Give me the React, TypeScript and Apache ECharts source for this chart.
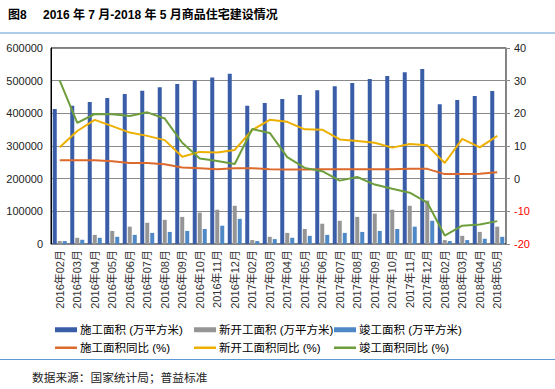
import React, { useEffect, useRef } from "react";
import * as echarts from "echarts";

const categories = [
  "2016年02月", "2016年03月", "2016年04月", "2016年05月", "2016年06月", "2016年07月",
  "2016年08月", "2016年09月", "2016年10月", "2016年11月", "2016年12月",
  "2017年02月", "2017年03月", "2017年04月", "2017年05月", "2017年06月", "2017年07月",
  "2017年08月", "2017年09月", "2017年10月", "2017年11月", "2017年12月",
  "2018年02月", "2018年03月", "2018年04月", "2018年05月",
];

const constructionArea = [
  413000, 423000, 435000, 447000, 459000, 469000, 480000, 490000, 501000, 510000, 521000,
  423000, 432000, 444000, 456000, 471000, 483000, 493000, 505000, 514000, 526000, 536000,
  428000, 441000, 453000, 468000,
];
const newStartArea = [
  9000, 19000, 28000, 40000, 53000, 65000, 74000, 83000, 96000, 105000, 117000,
  12000, 22000, 34000, 46000, 62000, 71000, 83000, 93000, 105000, 117000, 133000,
  12000, 25000, 37000, 53000,
];
const completedArea = [
  9000, 13000, 19000, 22000, 28000, 34000, 37000, 40000, 46000, 56000, 77000,
  9000, 15000, 19000, 25000, 28000, 34000, 37000, 40000, 46000, 53000, 71000,
  9000, 12000, 16000, 22000,
];
const constructionYoY = [
  5.6, 5.6, 5.6, 5.3, 4.8, 4.8, 4.4, 3.4, 3.2, 2.9, 3.2,
  3.2, 2.9, 2.8, 2.8, 2.9, 2.9, 2.9, 2.9, 2.9, 3.0, 3.0,
  1.4, 1.4, 1.5, 2.0,
];
const newStartYoY = [
  9.6, 14.6, 18.0, 16.1, 14.1, 13.1, 11.8, 6.7, 8.2, 8.0, 8.8,
  14.9, 18.0, 17.4, 15.1, 15.0, 12.0, 11.5, 11.0, 9.5, 10.6, 10.2,
  4.8, 12.2, 9.6, 13.1,
];
const completedYoY = [
  30.0, 17.1, 19.8, 19.7, 19.2, 20.3, 18.4, 11.0, 6.2, 5.4, 4.5,
  15.2, 14.0, 6.6, 3.3, 2.3, -0.6, 0.5, -1.8, -3.1, -4.3, -7.3,
  -17.4, -14.4, -14.0, -13.0,
];

const leftTicks = { min: 0, max: 600000, interval: 100000 };
const rightTicks = { min: -20, max: 40, interval: 10 };

const FONT = "'Liberation Sans', 'Noto Sans CJK SC', sans-serif";

const names = {
  c: "施工面积 (万平方米)",
  n: "新开工面积 (万平方米)",
  d: "竣工面积 (万平方米)",
  cy: "施工面积同比 (%)",
  ny: "新开工面积同比 (%)",
  dy: "竣工面积同比 (%)",
};

const colors = {
  c: "#3A5DA8",
  n: "#959595",
  d: "#4F88C6",
  cy: "#DB6A2C",
  ny: "#EDB000",
  dy: "#6E9E3C",
};

function App() {
  const ref = useRef<HTMLDivElement>(null);
  useEffect(() => {
    const chart = echarts.init(ref.current!, null, { renderer: "svg" });
    const legendItem = (key: keyof typeof names, left: number, top: number, isBar: boolean) => ({
      data: [{ name: names[key], icon: "rect" }],
      left,
      top,
      itemWidth: 22,
      itemHeight: isBar ? 5 : 2.5,
      itemGap: 4,
      textStyle: { fontFamily: FONT, fontSize: 11.5, color: "#000", padding: [0, 0, 0, -2] },
      selectedMode: false,
    });
    chart.setOption({
      animation: false,
      backgroundColor: "#fff",
      grid: {
        left: 51, right: 49, top: 48, bottom: 145,
        show: true, borderColor: "#000", borderWidth: 1,
      },
      graphic: [
        { type: "text", left: 8, top: 9, style: { text: "图8", font: `bold 12px ${FONT}`, fill: "#000" } },
        { type: "text", left: 43, top: 9, style: { text: "2016 年 7 月-2018 年 5 月商品住宅建设情况", font: `bold 12px ${FONT}`, fill: "#000" } },
        { type: "line", shape: { x1: 0, y1: 33, x2: 555, y2: 33 }, style: { stroke: "#5B9BD5", lineWidth: 1 } },
        { type: "line", shape: { x1: 0, y1: 359.5, x2: 555, y2: 359.5 }, style: { stroke: "#5B9BD5", lineWidth: 1 } },
        { type: "text", left: 32, top: 371, style: { text: "数据来源：国家统计局；普益标准", font: `11.7px 'Noto Sans CJK SC', sans-serif`, fill: "#222" } },
      ],
      legend: [
        legendItem("c", 50, 319, true),
        legendItem("n", 189, 319, true),
        legendItem("d", 329, 319, true),
        legendItem("cy", 50, 337, false),
        legendItem("ny", 189, 337, false),
        legendItem("dy", 329, 337, false),
      ],
      xAxis: {
        type: "category",
        data: categories,
        axisLine: { lineStyle: { color: "#888" } },
        axisTick: { show: false },
        axisLabel: { rotate: 90, fontFamily: FONT, fontSize: 11, color: "#333", margin: 6, interval: 0 },
      },
      yAxis: [
        {
          type: "value",
          ...leftTicks,
          axisLine: { show: true, lineStyle: { color: "#000" } },
          axisTick: { show: false },
          splitLine: { lineStyle: { color: "#8a8a8a" } },
          axisLabel: { fontFamily: FONT, fontSize: 11, color: "#222", margin: 8, formatter: (v: number) => String(v) },
        },
        {
          type: "value",
          ...rightTicks,
          position: "right",
          axisLine: { show: true, lineStyle: { color: "#888" } },
          axisTick: { show: true, length: 4, lineStyle: { color: "#888" } },
          splitLine: { show: false },
          axisLabel: {
            fontFamily: FONT, fontSize: 11, margin: 8,
            color: (v: any) => (Number(v) < 0 ? "#FF0000" : "#222"),
          },
        },
      ],
      series: [
        { name: names.c, type: "bar", data: constructionArea, barWidth: 4, barGap: "25%", itemStyle: { color: colors.c } },
        { name: names.n, type: "bar", data: newStartArea, barWidth: 4, barGap: "25%", itemStyle: { color: colors.n } },
        { name: names.d, type: "bar", data: completedArea, barWidth: 4, barGap: "25%", itemStyle: { color: colors.d } },
        { name: names.cy, type: "line", yAxisIndex: 1, data: constructionYoY, symbol: "none", lineStyle: { color: colors.cy, width: 2 }, itemStyle: { color: colors.cy } },
        { name: names.ny, type: "line", yAxisIndex: 1, data: newStartYoY, symbol: "none", lineStyle: { color: colors.ny, width: 2 }, itemStyle: { color: colors.ny } },
        { name: names.dy, type: "line", yAxisIndex: 1, data: completedYoY, symbol: "none", lineStyle: { color: colors.dy, width: 2 }, itemStyle: { color: colors.dy } },
      ],
    });
    return () => chart.dispose();
  }, []);
  return (
    <div
      ref={ref}
      style={{ position: "fixed", left: 0, top: 0, width: 555, height: 389, background: "#fff" }}
    />
  );
}

export default App;
